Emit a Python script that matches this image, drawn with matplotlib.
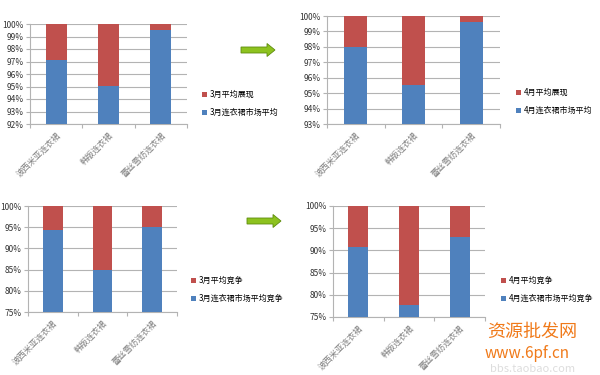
import matplotlib.pyplot as plt
import matplotlib.ticker as mtick
from matplotlib.patches import FancyArrow

plt.rcParams['font.family'] = ['Noto Sans CJK SC', 'DejaVu Sans']

categories = ['波西米亚连衣裙', '韩版连衣裙', '蕾丝雪纺连衣裙']

# 展现 (impressions) share, in percent
mar_show = [97.15, 95.05, 99.55]
apr_show = [98.0, 95.5, 99.62]
# 竞争 (competition) share, in percent
mar_comp = [94.4, 84.8, 95.0]
apr_comp = [90.8, 77.7, 93.0]

blue = '#4F81BD'
red = '#C0504D'
grid_c = '#B3B3B3'

fig = plt.figure(figsize=(6, 3.75), dpi=100)

def px_axes(left, right, top, bottom):
    return fig.add_axes([left / 600, 1 - bottom / 375, (right - left) / 600, (bottom - top) / 375])

def draw(ax, vals, ymin, ystep, top_lbl, bot_lbl, width, leg_xy):
    x = range(len(categories))
    ax.bar(x, vals, width=width, color=blue, label=bot_lbl, zorder=3)
    ax.bar(x, [100 - v for v in vals], bottom=vals, width=width, color=red, label=top_lbl, zorder=3)
    ax.set_xlim(-0.5, 2.5)
    ax.set_ylim(ymin, 100)
    ax.set_yticks([ymin + i * ystep for i in range(int(round((100 - ymin) / ystep)) + 1)])
    ax.yaxis.set_major_formatter(mtick.FuncFormatter(lambda v, p: '%d%%' % round(v)))
    ax.set_xticks([-0.5, 0.5, 1.5, 2.5])
    ax.set_xticklabels([])
    ax.set_xticks([0, 1, 2], minor=True)
    ax.set_xticklabels(categories, minor=True, rotation=45, ha='right', va='top',
                       rotation_mode='anchor', fontsize=6, color='#7F7F7F')
    ax.tick_params(axis='x', which='minor', length=0, pad=5)
    ax.tick_params(axis='x', which='major', length=3, color=grid_c)
    ax.tick_params(axis='y', length=3, color=grid_c, labelsize=6, pad=1.5, labelcolor='#333333')
    ax.grid(axis='y', color=grid_c, linewidth=0.8, zorder=0)
    for s in ['top', 'right']:
        ax.spines[s].set_visible(False)
    for s in ['left', 'bottom']:
        ax.spines[s].set_color(grid_c)
    h, l = ax.get_legend_handles_labels()
    fig.legend(h[::-1], l[::-1], loc='upper left',
               bbox_to_anchor=(leg_xy[0] / 600, 1 - leg_xy[1] / 375),
               frameon=False, fontsize=5.8, handlelength=0.6, handleheight=0.6,
               handletextpad=0.3, labelspacing=1.1, borderaxespad=0)

ax1 = px_axes(30, 187, 24, 124)
draw(ax1, mar_show, 92, 1, '3月平均展现', '3月连衣裙市场平均', 0.4, (199, 87))
ax2 = px_axes(327, 500, 16, 124)
draw(ax2, apr_show, 93, 1, '4月平均展现', '4月连衣裙市场平均', 0.4, (513, 85))
ax3 = px_axes(28, 177, 206, 312)
draw(ax3, mar_comp, 75, 5, '3月平均竞争', '3月连衣裙市场平均竞争', 0.4, (188, 273))
ax4 = px_axes(333, 485, 206, 317)
draw(ax4, apr_comp, 75, 5, '4月平均竞争', '4月连衣裙市场平均竞争', 0.4, (498, 273))

# green arrows between charts
for (x0, y0) in [(241, 50), (247, 221)]:
    arr = FancyArrow(x0 / 600, 1 - y0 / 375, 34 / 600, 0, width=6 / 375,
                     head_width=13 / 375, head_length=8 / 600, length_includes_head=True,
                     transform=fig.transFigure, facecolor='#8DC21F', edgecolor='#5E8C0E', lw=0.6)
    fig.patches.append(arr)

# watermark
fig.text(487 / 600, 1 - 332 / 375, '资源批发网', color='#F07A1A', fontsize=13, va='center', ha='left')
fig.text(485 / 600, 1 - 354 / 375, 'www.6pf.cn', color='#F07A1A', fontsize=11, va='center', ha='left')
fig.text(490 / 600, 1 - 369 / 375, 'bbs.taobao.com', color='#DDDDDD', fontsize=8, va='center', ha='left')

fig.savefig('out.png', dpi=100)
